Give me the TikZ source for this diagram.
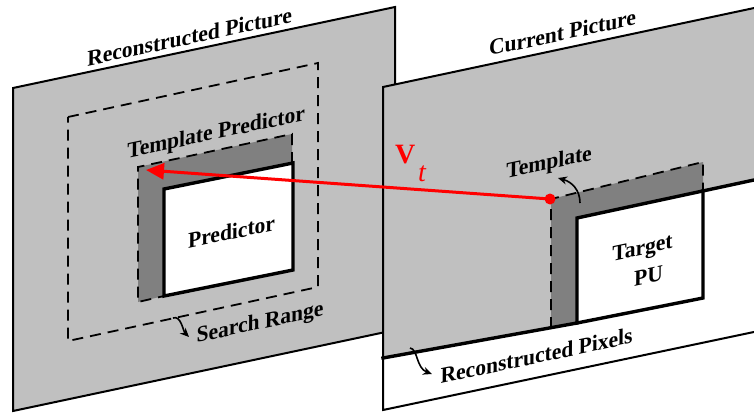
\documentclass[tikz,border=0pt]{standalone}
\usepackage{fontspec}
\setmainfont{Liberation Serif}
% bold face with a slant for the labels
\newfontfamily\lblfont{Liberation Serif}[FakeSlant=0.22]
\usetikzlibrary{arrows.meta}

\definecolor{planegray}{RGB}{192,192,192}
\definecolor{tmplgray}{RGB}{128,128,128}
\definecolor{mvred}{RGB}{255,0,0}

\begin{document}
\begin{tikzpicture}[x=1pt,y=-1pt,
  planeline/.style={draw=black, line width=2pt, line join=miter},
  boldline/.style={line width=3.4pt, line join=miter, line cap=rect},
  dashline/.style={dash pattern=on 11pt off 7pt, line width=1.8pt},
  lbl/.style={font=\fontsize{22}{29}\selectfont\lblfont\bfseries, rotate=12,
              inner sep=0pt, align=center},
  pointer/.style={-{Stealth[length=9pt,width=8pt]}, line width=1.6pt},
]
\clip (0,0) rectangle (754,412);

% --- reconstructed (reference) picture ---
\draw[planeline, fill=planegray] (13,88) -- (395,7) -- (395,330) -- (13,411) -- cycle;
\draw[dashline] (68,117) -- (318,63) -- (318,287) -- (68,341) -- cycle;
\fill[tmplgray] (138,167) -- (292,134) -- (292,163) -- (164,189) -- (164,296) -- (138,302) -- cycle;
\draw[dashline] (292,163) -- (292,134) -- (138,167) -- (138,302) -- (164,296);
\draw[boldline, fill=white] (164,189) -- (293,163) -- (293,270) -- (164,296) -- cycle;

% --- current picture ---
\fill[white] (383,87) -- (780,2.5) -- (780,326.5) -- (383,410) -- cycle;
\fill[planegray] (383,87) -- (780,2.5) -- (780,174.4) -- (577,218) -- (577,323) -- (383,358) -- cycle;
\fill[tmplgray] (551,199) -- (703,162) -- (703,191) -- (577,218) -- (577,323) -- (551,328) -- cycle;
\draw[dashline] (551,328) -- (551,199) -- (703,162) -- (703,191);
\draw[boldline] (383,358) -- (577,323) -- (577,218) -- (780,174.4);
\draw[boldline] (703,191) -- (703,298) -- (577,323);
\draw[planeline] (780,2.5) -- (383,87) -- (383,410) -- (780,326.5);

% --- labels ---
\node[lbl] (recpic) at (188,37) {Reconstructed Picture};
\node[lbl] (curpic) at (561,33) {Current Picture};
\node[lbl] (tpred)  at (215,134) {Template Predictor};
\node[lbl] (pred)   at (230,232) {Predictor};
\node[lbl] (srange) at (259,324) {Search Range};
\node[lbl] (tmpl)   at (548,164) {Template};
\node[lbl] (target) at (644,262) {Target\\PU};
\node[lbl] (recpix) at (535,356) {Reconstructed Pixels};

% --- motion vector ---
\node[circle, fill=mvred, inner sep=0pt, minimum size=11pt] (dot) at (550,199) {};
\coordinate (mvtip) at (146,170);
\draw[mvred, line width=3pt, -{Triangle[length=18pt,width=16pt]}] (dot.center) -- (mvtip);
\node[anchor=base west, inner sep=0pt, text=mvred,
      font=\fontsize{28}{28}\selectfont\bfseries\upshape] (vname) at (395,163) {V};
\node[anchor=base west, inner sep=0pt, text=mvred,
      font=\fontsize{28}{28}\selectfont\itshape] (vsub) at (418,181) {t};

% --- pointers from the labels ---
\coordinate (sr0) at (173,318);
\coordinate (sr1) at (189,337);
\draw[pointer] (sr0) .. controls (181,315) and (183,331) .. (sr1);
\coordinate (tp0) at (580,203);
\coordinate (tp1) at (558,178);
\draw[pointer] (tp0) .. controls (580,190) and (572,182) .. (tp1);
\coordinate (rp0) at (410,348);
\coordinate (rp1) at (432,374);
\draw[pointer] (rp0) .. controls (418,349) and (416,368) .. (rp1);
\end{tikzpicture}
\end{document}
